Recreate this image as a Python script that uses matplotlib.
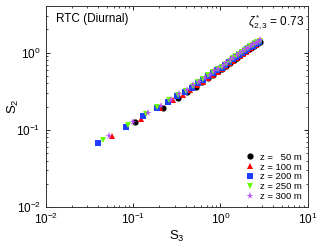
import matplotlib
matplotlib.use("Agg")
import matplotlib.pyplot as plt
from matplotlib.ticker import LogLocator, NullFormatter

plt.rcParams['font.family'] = ['Liberation Sans', 'DejaVu Sans']
plt.rcParams['mathtext.fontset'] = 'custom'
plt.rcParams['mathtext.rm'] = 'Liberation Sans'
plt.rcParams['mathtext.it'] = 'Liberation Sans:italic'

labels = ["z =   50 m", "z = 100 m", "z = 200 m", "z = 250 m", "z = 300 m"]

s3_50 = [0.105, 0.22, 0.33, 0.42, 0.52, 0.62, 0.72, 0.82, 0.93, 1.05, 1.17, 1.3, 1.42,
         1.55, 1.68, 1.82, 1.95, 2.1, 2.25, 2.4, 2.55, 2.7, 2.8]
s2_50 = [0.125, 0.19, 0.26, 0.31, 0.36, 0.42, 0.47, 0.52, 0.57, 0.62, 0.68, 0.74, 0.8,
         0.86, 0.92, 0.98, 1.04, 1.1, 1.16, 1.22, 1.28, 1.34, 1.38]

s3_100 = [0.058, 0.125, 0.205, 0.285, 0.37, 0.45, 0.54, 0.63, 0.72, 0.82, 0.93, 1.04, 1.16,
          1.28, 1.4, 1.53, 1.66, 1.8, 1.94, 2.08, 2.22, 2.37, 2.52, 2.65, 2.78]
s2_100 = [0.083, 0.14, 0.19, 0.24, 0.285, 0.33, 0.375, 0.42, 0.465, 0.51, 0.56, 0.61, 0.67,
          0.73, 0.78, 0.84, 0.9, 0.96, 1.02, 1.08, 1.14, 1.2, 1.26, 1.32, 1.37]

s3_200 = [0.04, 0.083, 0.13, 0.19, 0.25, 0.32, 0.39, 0.47, 0.55, 0.63, 0.72, 0.82, 0.92,
          1.03, 1.14, 1.26, 1.38, 1.5, 1.63, 1.76, 1.9, 2.04, 2.18, 2.33, 2.48, 2.62, 2.75]
s2_200 = [0.067, 0.11, 0.15, 0.19, 0.23, 0.27, 0.31, 0.35, 0.4, 0.44, 0.49, 0.54, 0.59,
          0.64, 0.7, 0.76, 0.82, 0.87, 0.93, 0.99, 1.05, 1.11, 1.17, 1.23, 1.29, 1.34, 1.39]

s3_250 = [0.045, 0.087, 0.14, 0.19, 0.26, 0.33, 0.4, 0.48, 0.56, 0.64, 0.73, 0.83, 0.93,
          1.04, 1.15, 1.27, 1.39, 1.52, 1.65, 1.78, 1.92, 2.06, 2.2, 2.35, 2.5, 2.65, 2.8]
s2_250 = [0.073, 0.115, 0.16, 0.2, 0.24, 0.28, 0.32, 0.37, 0.41, 0.46, 0.51, 0.56, 0.61,
          0.66, 0.72, 0.78, 0.84, 0.9, 0.96, 1.02, 1.08, 1.14, 1.2, 1.26, 1.32, 1.37, 1.42]

s3_300 = [0.053, 0.1, 0.15, 0.21, 0.27, 0.34, 0.41, 0.49, 0.57, 0.66, 0.75, 0.85, 0.95,
          1.06, 1.17, 1.29, 1.41, 1.54, 1.67, 1.8, 1.94, 2.08, 2.23, 2.38, 2.53, 2.68, 2.83]
s2_300 = [0.083, 0.125, 0.165, 0.205, 0.245, 0.29, 0.33, 0.375, 0.42, 0.47, 0.52, 0.57, 0.62,
          0.68, 0.74, 0.8, 0.86, 0.92, 0.98, 1.04, 1.1, 1.16, 1.22, 1.28, 1.34, 1.39, 1.44]

series = [(s3_50, s2_50), (s3_100, s2_100), (s3_200, s2_200), (s3_250, s2_250), (s3_300, s2_300)]
colors = ['black', '#ff0000', '#1f3dff', '#66ff00', '#b84dff']
markers = ['o', '^', 's', 'v', '*']
msizes = [4.5, 4.5, 4.0, 5.0, 5.5]

fig = plt.figure(figsize=(3.19, 2.43), dpi=100)
ax = fig.add_axes([0.143, 0.148, 0.822, 0.827])

for (x, y), c, m, ms, lab in zip(series, colors, markers, msizes, labels):
    ax.plot(x, y, linestyle='none', marker=m, color=c, markersize=ms,
            markeredgewidth=0, label=lab)

ax.set_xscale('log')
ax.set_yscale('log')
ax.set_xlim(0.01, 10)
ax.set_ylim(0.01, 4)
ax.yaxis.set_major_locator(LogLocator(base=10, numticks=10))
ax.yaxis.set_minor_locator(LogLocator(base=10, subs=range(2, 10), numticks=10))
ax.xaxis.set_minor_formatter(NullFormatter())
ax.yaxis.set_minor_formatter(NullFormatter())
ax.tick_params(which='both', direction='in', top=True, right=True, labelsize=8.5)
ax.tick_params(which='major', length=3, width=0.6)
ax.tick_params(which='minor', length=1.5, width=0.5)
for sp in ax.spines.values():
    sp.set_linewidth(0.7)
    sp.set_color('#333333')

ax.set_xlabel(r"S$_3$", fontsize=9.5, labelpad=1)
ax.set_ylabel(r"S$_2$", fontsize=9.5)
ax.yaxis.set_label_coords(-0.095, 0.5)

ax.text(0.04, 0.965, "RTC (Diurnal)", transform=ax.transAxes, ha='left', va='top', fontsize=8.5)
ax.text(0.985, 0.965, r"$\zeta^*_{2,3}$ = 0.73", transform=ax.transAxes, ha='right', va='top', fontsize=8.5)

leg = ax.legend(loc='lower right', frameon=False, fontsize=6.8, handletextpad=0.4,
                labelspacing=0.1, borderaxespad=0.2, handlelength=1.4)

fig.savefig("out.png", dpi=100)
